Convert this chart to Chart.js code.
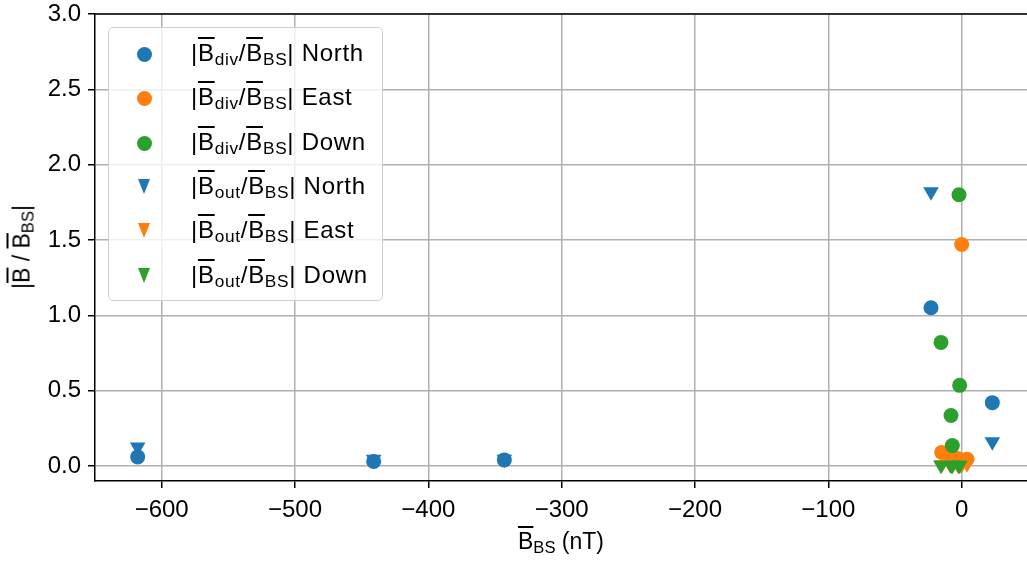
<!DOCTYPE html>
<html>
<head>
<meta charset="utf-8">
<script src="https://cdn.jsdelivr.net/npm/chart.js@4.4.1/dist/chart.umd.min.js"></script>
<style>
  body { margin: 0; background: #fff; }
  #wrap { position: relative; width: 1027px; height: 563px; font-family: 'Liberation Sans', Arial, sans-serif; color: #000; }
  #chart { position: absolute; left: 0; top: 0; }
  .ov { position: absolute; font-size: 23px; white-space: nowrap; line-height: 1; }
  .ol { text-decoration: overline; text-decoration-thickness: 1.5px; }
  sub { font-size: 72%; vertical-align: -0.25em; line-height: 0; }
  #legend { position: absolute; left: 108px; top: 27px; width: 273px; height: 272px;
    background: rgba(255, 255, 255, 0.8); border: 1.5px solid #d0d0d0; border-radius: 5px; }
  .row { position: absolute; left: 0; height: 30px; width: 100%; }
  .mk { position: absolute; left: 28px; top: 8px; }
  .circ { width: 15px; height: 15px; border-radius: 50%; }
  .tri { width: 0; height: 0; border-left: 6.5px solid transparent; border-right: 6.5px solid transparent; border-top: 15px solid; left: 29px; top: 7px; }
  .txt { position: absolute; left: 82px; top: 2px; font-size: 24px; line-height: 1; letter-spacing: 0.7px; }
</style>
</head>
<body>
<div id="wrap">
  <canvas id="chart" width="1027" height="563"></canvas>
  <div id="legend"></div>
  <div class="ov" id="xtitle" style="left: 518px; top: 530px;"><span class="ol">B</span><sub>BS</sub> (nT)</div>
  <div class="ov" id="ytitle" style="left: 22px; top: 247px; transform: translate(-50%, -50%) rotate(-90deg);">|<span class="ol">B</span> / <span class="ol">B</span><sub>BS</sub>|</div>
</div>
<script>
//================================ DADES

// valors de B_BS (nT) per component, compartits pels dos tipus de quocient
const northX = [-618, -441, -343, -23, 23];
const eastX = [0, -15, -9, -3, 4];
const downX = [-2, -15.5, -1.5, -8, -7];

const divNorthY = [0.06, 0.03, 0.04, 1.05, 0.42];
const divEastY = [1.47, 0.09, 0.07, 0.05, 0.045];
const divDownY = [1.80, 0.82, 0.535, 0.335, 0.135];
const outNorthY = [0.125, 0.045, 0.045, 1.82, 0.16];
const outEastY = [0.01, 0.01, 0.015, 0.01, 0.015];
const outDownY = [0.005, 0.005, 0.005, 0.005, 0.005];

const seriesKind = ['div', 'div', 'div', 'out', 'out', 'out'];
const seriesComp = ['North', 'East', 'Down', 'North', 'East', 'Down'];

const xTicks = [-600, -500, -400, -300, -200, -100, 0];
const yTicks = [0, 0.5, 1.0, 1.5, 2.0, 2.5, 3.0];

//================================ CONSTANTS

const BLUE = '#1f77b4';
const ORANGE = '#ff7f0e';
const GREEN = '#2ca02c';
const compColor = { North: BLUE, East: ORANGE, Down: GREEN };
const GRID = '#b0b0b0';
const FONT = { family: "'Liberation Sans', Arial, sans-serif", size: 24 };

//================================ FUNCIONS

function buildPoints (xs, ys) {
  const out = [];
  for (let i = 0; i < xs.length; i++) {
    out.push({ x: xs[i], y: ys[i] });
  }
  return out;
}

function minusSign (v) {
  return String(v).replace('-', '\u2212');
}

const xsList = [northX, eastX, downX, northX, eastX, downX];
const ysList = [divNorthY, divEastY, divDownY, outNorthY, outEastY, outDownY];

const datasets = [];
for (let i = 0; i < seriesKind.length; i++) {
  const isOut = seriesKind[i] === 'out';
  datasets.push({
    label: seriesKind[i] + ' ' + seriesComp[i],
    data: buildPoints(xsList[i], ysList[i]),
    pointStyle: isOut ? 'triangle' : 'circle',
    rotation: isOut ? 180 : 0,
    pointRadius: isOut ? 9 : 7.5,
    pointHoverRadius: isOut ? 9 : 7.5,
    backgroundColor: compColor[seriesComp[i]],
    borderWidth: 0,
    showLine: false,
    order: seriesKind.length - i,
  });
}

// llegenda HTML (text real amb subíndexs)
const legend = document.getElementById('legend');
for (let i = 0; i < seriesKind.length; i++) {
  const row = document.createElement('div');
  row.className = 'row';
  row.style.top = (11 + i * 44.3) + 'px';
  const mk = document.createElement('div');
  const color = compColor[seriesComp[i]];
  if (seriesKind[i] === 'out') {
    mk.className = 'mk tri';
    mk.style.borderTopColor = color;
  } else {
    mk.className = 'mk circ';
    mk.style.background = color;
  }
  const txt = document.createElement('div');
  txt.className = 'txt';
  txt.innerHTML = '|<span class="ol">B</span><sub>' + seriesKind[i] + '</sub>/<span class="ol">B</span><sub>BS</sub>| ' + seriesComp[i];
  row.appendChild(mk);
  row.appendChild(txt);
  legend.appendChild(row);
}

const topSpine = {
  id: 'topSpine',
  afterDraw (chart) {
    const a = chart.chartArea;
    const ctx = chart.ctx;
    ctx.save();
    ctx.strokeStyle = '#000';
    ctx.lineWidth = 1.5;
    ctx.beginPath();
    ctx.moveTo(a.left, a.top);
    ctx.lineTo(a.right, a.top);
    ctx.stroke();
    ctx.restore();
  },
};

new Chart(document.getElementById('chart'), {
  type: 'scatter',
  data: { datasets },
  plugins: [topSpine],
  options: {
    responsive: false,
    animation: false,
    devicePixelRatio: 1,
    layout: { autoPadding: false, padding: { top: 14, right: 0, left: 0, bottom: 0 } },
    plugins: { legend: { display: false }, tooltip: { enabled: false } },
    scales: {
      x: {
        type: 'linear',
        min: -650,
        max: 49,
        afterBuildTicks (scale) {
          const t = [];
          for (let i = 0; i < xTicks.length; i++) t.push({ value: xTicks[i] });
          scale.ticks = t;
        },
        afterFit (scale) {
          scale.height = 82;
          scale.paddingLeft = 0;
          scale.paddingRight = 0;
        },
        ticks: { color: '#000', font: FONT, padding: 8, maxRotation: 0, callback: (v) => minusSign(v) },
        grid: { color: GRID, lineWidth: 1.5, tickLength: 7, tickColor: '#000', tickWidth: 1.5 },
        border: { color: '#000', width: 1.5 },
      },
      y: {
        min: -0.1,
        max: 3,
        afterBuildTicks (scale) {
          const t = [];
          for (let i = 0; i < yTicks.length; i++) t.push({ value: yTicks[i] });
          scale.ticks = t;
        },
        afterFit (scale) {
          scale.width = 95;
          scale.paddingTop = 0;
          scale.paddingBottom = 0;
        },
        ticks: { color: '#000', font: FONT, padding: 7, callback: (v) => Number(v).toFixed(1) },
        grid: { color: GRID, lineWidth: 1.5, tickLength: 7, tickColor: '#000', tickWidth: 1.5 },
        border: { color: '#000', width: 1.5 },
      },
    },
  },
});
</script>
</body>
</html>
